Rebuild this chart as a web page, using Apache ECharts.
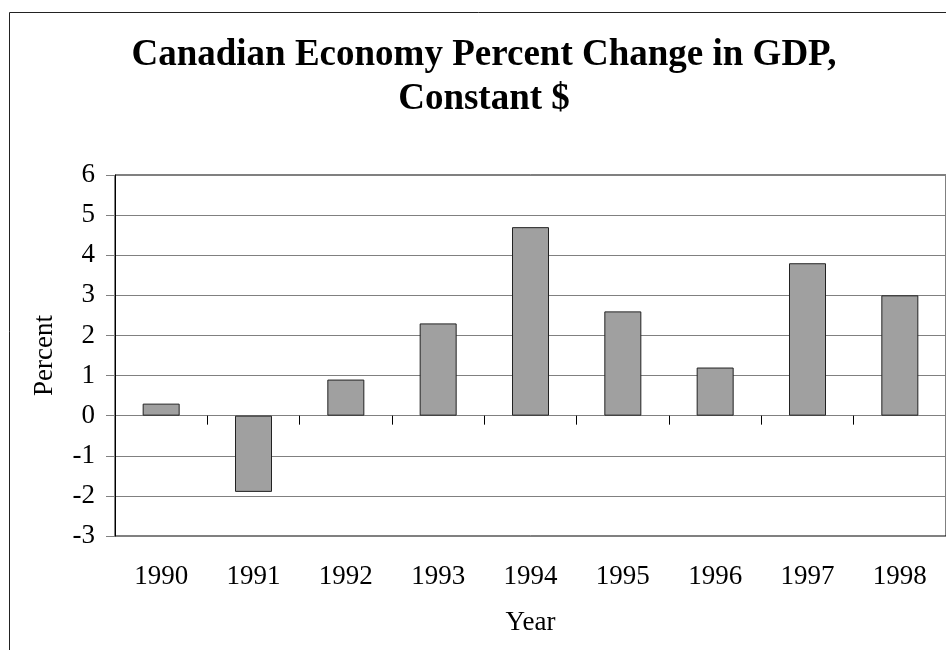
<!DOCTYPE html>
<html>
<head>
<meta charset="utf-8">
<script src="https://cdn.jsdelivr.net/npm/echarts@6/dist/echarts.min.js"></script>
<style>html,body{margin:0;padding:0;background:#fff}#c{width:946px;height:650px}</style>
</head>
<body>
<div id="c"></div>
<script>
const titleText = 'Canadian Economy Percent Change in GDP,\nConstant $';
const categories = ['1990','1991','1992','1993','1994','1995','1996','1997','1998'];
const gdpChange = [0.3, -1.9, 0.9, 2.3, 4.7, 2.6, 1.2, 3.8, 3.0];
const yTicks = {min: -3, max: 6, interval: 1};
const yName = 'Percent';
const xName = 'Year';

const font = 'Liberation Serif';
const chart = echarts.init(document.getElementById('c'), null, {renderer: 'canvas'});
chart.setOption({
  animation: false,
  backgroundColor: '#fff',
  graphic: [{
    type: 'rect', silent: true, z: -1,
    shape: {x: 9.5, y: 12.5, width: 1000, height: 1000},
    style: {fill: 'none', stroke: '#222', lineWidth: 1}
  }, {
    type: 'text', silent: true, x: 484, y: 33,
    style: {
      text: titleText, fontFamily: font, fontSize: 37, fontWeight: 'bold', fill: '#000',
      lineHeight: 44, align: 'center', verticalAlign: 'top'
    }
  }],
  grid: {left: 115, top: 175, right: -1, bottom: 114, show: true, borderColor: '#000', borderWidth: 1, backgroundColor: 'transparent'},
  xAxis: [{
    type: 'category', data: categories, position: 'bottom',
    axisLine: {show: false, onZero: false},
    axisTick: {show: false},
    axisLabel: {fontFamily: font, fontSize: 27, color: '#000', margin: 27},
    name: xName, nameLocation: 'middle', nameGap: 73,
    nameTextStyle: {fontFamily: font, fontSize: 27, color: '#000'}
  }, {
    type: 'category', data: categories, position: 'bottom',
    axisLine: {show: false, onZero: true},
    axisTick: {show: true, length: 9, lineStyle: {color: '#000', width: 1}},
    axisLabel: {show: false}
  }],
  yAxis: {
    type: 'value', min: yTicks.min, max: yTicks.max, interval: yTicks.interval,
    axisLine: {show: true, lineStyle: {color: '#000', width: 1}},
    axisTick: {show: true, length: 9, lineStyle: {color: '#808080', width: 1}},
    splitLine: {show: true, lineStyle: {color: '#808080', width: 1.2}},
    axisLabel: {fontFamily: font, fontSize: 27, color: '#000', margin: 20},
    name: yName, nameLocation: 'middle', nameGap: 57, nameRotate: 90,
    nameTextStyle: {fontFamily: font, fontSize: 27, color: '#000'}
  },
  series: [{
    type: 'bar', data: gdpChange, xAxisIndex: 0, barWidth: 37,
    itemStyle: {color: '#a0a0a0', borderColor: '#222', borderWidth: 1}
  }]
});
</script>
</body>
</html>
